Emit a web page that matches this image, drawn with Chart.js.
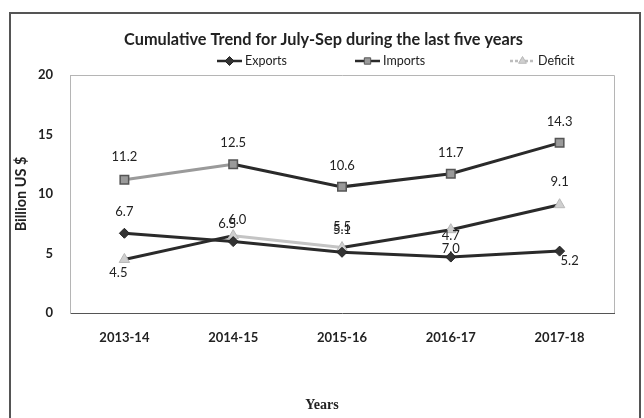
<!DOCTYPE html>
<html>
<head>
<meta charset="utf-8">
<script src="https://cdn.jsdelivr.net/npm/chart.js@4"></script>
<style>
  html, body { margin: 0; padding: 0; background: #fff; }
  #wrap { position: relative; width: 644px; height: 418px; }
</style>
</head>
<body>
<div id="wrap"><canvas id="c" width="644" height="418"></canvas></div>
<script>
const categories = ['2013-14', '2014-15', '2015-16', '2016-17', '2017-18'];
const exportsVals = [6.7, 6.0, 5.1, 4.7, 5.2];
const importsVals = [11.2, 12.5, 10.6, 11.7, 14.3];
const deficitVals = [4.5, 6.5, 5.5, 7.0, 9.1];
const yTicks = [0, 5, 10, 15, 20];
const chartTitle = 'Cumulative Trend for July-Sep during the last five years';
const xTitle = 'Years';
const yTitle = 'Billion US $';

const FONT = 'Lato, "Open Sans", sans-serif';

// label offsets (style only)
const labelOffsets = [
  [[0,-21],[4,-22],[0,-22],[0,-21],[10,10]],
  [[0,-23],[0,-21],[0,-21],[0,-21],[0,-21]],
  [[-6,13],[-6,-12],[0,-21],[0,19],[0,-23]]
];
const legendX = [217, 355, 510];

const deco = {
  id: 'deco',
  beforeDraw(chart) {
    const ctx = chart.ctx, a = chart.chartArea;
    ctx.save();
    ctx.fillStyle = '#fff';
    ctx.fillRect(0, 0, chart.width, chart.height);
    ctx.strokeStyle = '#555';
    ctx.lineWidth = 2;
    ctx.strokeRect(10, 13, 630, 430);
    ctx.strokeStyle = '#b5b5b5';
    ctx.lineWidth = 1;
    ctx.beginPath();
    ctx.moveTo(a.left, a.top + 0.5);
    ctx.lineTo(a.right + 0.5, a.top + 0.5);
    ctx.lineTo(a.right + 0.5, a.bottom);
    ctx.stroke();
    ctx.restore();
  },
  afterDraw(chart) {
    const ctx = chart.ctx;
    ctx.save();
    ctx.fillStyle = '#222';
    ctx.font = 'bold 16.3px ' + FONT;
    ctx.textAlign = 'center';
    ctx.textBaseline = 'middle';
    ctx.fillText(chartTitle, 323.5, 40);
    ctx.font = 'bold 14px "Liberation Serif", "DejaVu Serif", serif';
    ctx.fillText(xTitle, 322, 405);
    chart.data.datasets.forEach((ds, i) => {
      const x0 = legendX[i], y = 61;
      ctx.strokeStyle = ds.legendLine;
      ctx.lineWidth = 2.5;
      ctx.setLineDash(ds.legendDash || []);
      ctx.beginPath();
      ctx.moveTo(x0, y);
      ctx.lineTo(x0 + 25, y);
      ctx.stroke();
      ctx.setLineDash([]);
      ctx.fillStyle = ds.pointBackgroundColor;
      ctx.strokeStyle = ds.pointBorderColor;
      ctx.lineWidth = 1;
      Chart.helpers.drawPoint(ctx, {
        pointStyle: ds.pointStyle, radius: 4.5, borderWidth: 1, rotation: 0
      }, x0 + 12.5, y);
      ctx.fillStyle = '#222';
      ctx.font = '12.5px ' + FONT;
      ctx.textAlign = 'left';
      ctx.fillText(ds.label, x0 + 28, y);
    });
    ctx.restore();
  },
  afterDatasetsDraw(chart) {
    const ctx = chart.ctx;
    ctx.save();
    ctx.fillStyle = '#222';
    ctx.font = '13px ' + FONT;
    ctx.textAlign = 'center';
    ctx.textBaseline = 'middle';
    chart.data.datasets.forEach((ds, i) => {
      const meta = chart.getDatasetMeta(i);
      meta.data.forEach((pt, j) => {
        const off = labelOffsets[i][j];
        ctx.fillText(ds.data[j].toFixed(1), pt.x + off[0], pt.y + off[1]);
      });
    });
    ctx.restore();
  }
};

const DARK = '#2a2a2a', MID = '#9a9a9a', LIGHT = '#c4c4c4';
const impSeg = [MID, DARK, DARK, DARK];
const defSeg = [DARK, LIGHT, DARK, DARK];

new Chart(document.getElementById('c'), {
  type: 'line',
  data: {
    labels: categories,
    datasets: [
      {
        label: 'Exports', data: exportsVals,
        borderColor: DARK, borderWidth: 3, legendLine: DARK,
        pointStyle: 'rectRot', pointRadius: 5,
        pointBackgroundColor: '#333', pointBorderColor: '#222', pointBorderWidth: 1
      },
      {
        label: 'Imports', data: importsVals,
        borderColor: DARK, borderWidth: 3, legendLine: DARK,
        segment: { borderColor: c => impSeg[c.p0DataIndex] },
        pointStyle: 'rect', pointRadius: 6,
        pointBackgroundColor: '#9a9a9a', pointBorderColor: '#555', pointBorderWidth: 1.5
      },
      {
        label: 'Deficit', data: deficitVals,
        borderColor: LIGHT, borderWidth: 3, legendLine: '#bdbdbd', legendDash: [3, 2],
        segment: { borderColor: c => defSeg[c.p0DataIndex] },
        pointStyle: 'triangle', pointRadius: 6,
        pointBackgroundColor: '#cfcfcf', pointBorderColor: '#b8b8b8', pointBorderWidth: 1
      }
    ]
  },
  options: {
    responsive: false,
    animation: false,
    layout: { padding: { left: 10, right: 30, top: 75, bottom: 5 } },
    plugins: { legend: { display: false }, title: { display: false }, tooltip: { enabled: false } },
    scales: {
      x: {
        offset: true,
        grid: { display: false, drawTicks: false },
        border: { display: true, color: '#555', width: 1, dash: [1, 1] },
        ticks: { color: '#222', padding: 17, font: { family: FONT, size: 13, weight: 'bold' } },
        afterFit: s => { s.height = 100; }
      },
      y: {
        min: 0, max: 20,
        afterBuildTicks: s => { s.ticks = yTicks.map(v => ({ value: v })); },
        grid: { display: false, drawTicks: false },
        border: { display: true, color: '#b5b5b5', width: 1 },
        ticks: { color: '#222', padding: 17, font: { family: FONT, size: 13, weight: 'bold' } },
        title: { display: true, text: yTitle, color: '#222', padding: { top: 3, bottom: 0 },
                 font: { family: FONT, size: 14.5, weight: 'bold' } },
        afterFit: s => { s.width = 60; }
      }
    }
  },
  plugins: [deco]
});
</script>
</body>
</html>
